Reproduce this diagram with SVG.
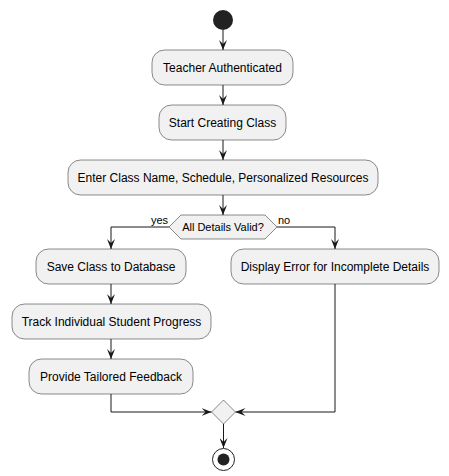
<svg xmlns="http://www.w3.org/2000/svg" width="449" height="476" viewBox="0 0 449 476">
<defs>
<style>
.box{fill:#F1F1F1;stroke:#181818;stroke-width:0.5}
.t{font-family:"Liberation Sans",Arial,sans-serif;font-size:12px;fill:#000;text-anchor:middle}
.s{font-family:"Liberation Sans",Arial,sans-serif;font-size:11px;fill:#000}
.ln{fill:none;stroke:#181818;stroke-width:1}
</style>
<marker id="ah" markerUnits="userSpaceOnUse" markerWidth="10" markerHeight="8" refX="10" refY="4" orient="auto" viewBox="0 0 10 8">
<path d="M0,0 L10,4 L0,8 L4,4 Z" fill="#181818"/>
</marker>
</defs>
<rect width="449" height="476" fill="#FFFFFF"/>
<g id="start"><circle cx="223" cy="20" r="10" fill="#222222"/></g>
<g id="n1"><rect class="box" x="152" y="50" width="141" height="35" rx="12.5"/><text class="t" x="222.5" y="72">Teacher Authenticated</text></g>
<g id="n2"><rect class="box" x="159" y="105" width="127" height="35" rx="12.5"/><text class="t" x="222.5" y="127">Start Creating Class</text></g>
<g id="n3"><rect class="box" x="68" y="160" width="310" height="35" rx="12.5"/><text class="t" x="223" y="182">Enter Class Name, Schedule, Personalized Resources</text></g>
<g id="d1"><polygon class="box" points="181,215 265,215 277,227 265,239 181,239 169,227"/><text class="s" x="223" y="231" text-anchor="middle">All Details Valid?</text></g>
<g id="n4"><rect class="box" x="36" y="249" width="150" height="35" rx="12.5"/><text class="t" x="111" y="271">Save Class to Database</text></g>
<g id="n5"><rect class="box" x="12" y="304" width="199" height="35" rx="12.5"/><text class="t" x="111.5" y="326">Track Individual Student Progress</text></g>
<g id="n6"><rect class="box" x="29" y="359" width="164" height="35" rx="12.5"/><text class="t" x="111" y="381">Provide Tailored Feedback</text></g>
<g id="n7"><rect class="box" x="231" y="249" width="208" height="35" rx="12.5"/><text class="t" x="335" y="271">Display Error for Incomplete Details</text></g>
<g id="merge"><polygon class="box" points="223.5,400 235.5,412 223.5,424 211.5,412"/></g>
<g id="end"><circle cx="223.5" cy="459.5" r="11" fill="none" stroke="#222222" stroke-width="1"/><circle cx="223.5" cy="459.5" r="6" fill="#222222"/></g>
<g id="connectors">
<path class="ln" d="M223,30 L223,50" marker-end="url(#ah)"/>
<path class="ln" d="M223,85 L223,105" marker-end="url(#ah)"/>
<path class="ln" d="M223,140 L223,160" marker-end="url(#ah)"/>
<path class="ln" d="M223,195 L223,215" marker-end="url(#ah)"/>
<path class="ln" d="M169,227 L111,227 L111,249" marker-end="url(#ah)"/>
<path class="ln" d="M277,227 L335,227 L335,249" marker-end="url(#ah)"/>
<path class="ln" d="M111,284 L111,304" marker-end="url(#ah)"/>
<path class="ln" d="M111,339 L111,359" marker-end="url(#ah)"/>
<path class="ln" d="M111,394 L111,412 L211.5,412" marker-end="url(#ah)"/>
<path class="ln" d="M335,284 L335,412 L235.5,412" marker-end="url(#ah)"/>
<path class="ln" d="M223.5,424 L223.5,448" marker-end="url(#ah)"/>
<text class="s" x="168" y="224" text-anchor="end">yes</text>
<text class="s" x="278" y="224">no</text>
</g>
</svg>
